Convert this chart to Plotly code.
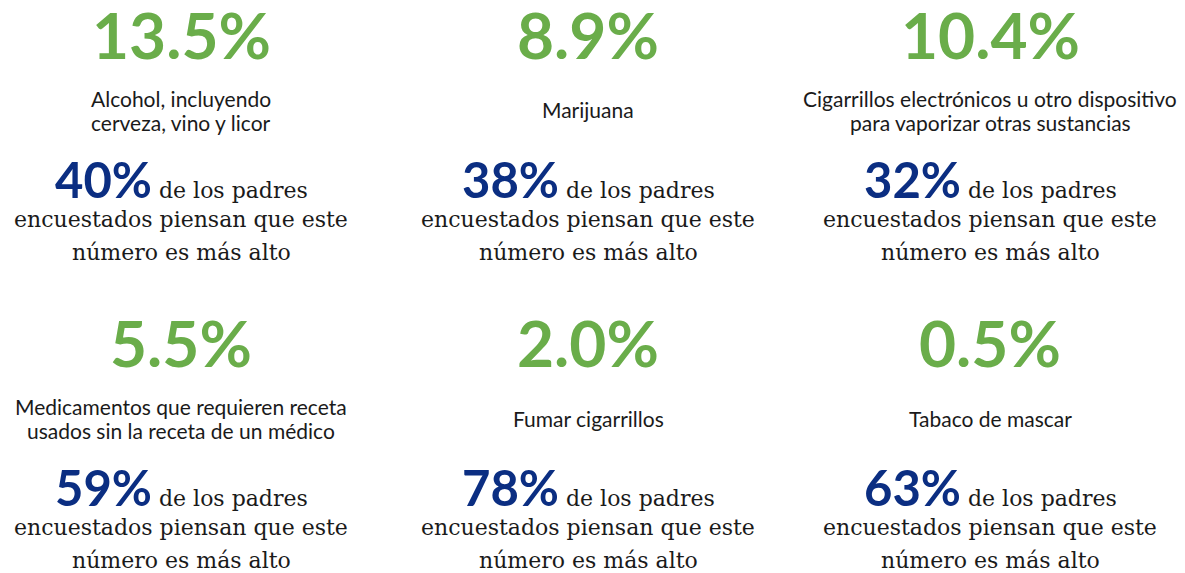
import plotly.graph_objects as go

# ---- data ----
rates = [13.5, 8.9, 10.4, 5.5, 2.0, 0.5]
substances = [
    "Alcohol, incluyendo<br>cerveza, vino y licor",
    "Marijuana",
    "Cigarrillos electrónicos u otro dispositivo<br>para vaporizar otras sustancias",
    "Medicamentos que requieren receta<br>usados sin la receta de un médico",
    "Fumar cigarrillos",
    "Tabaco de mascar",
]
parents_higher = [40, 38, 32, 59, 78, 63]
line1_text = "de los padres"
line2_text = "encuestados piensan que este"
line3_text = "número es más alto"

# ---- layout ----
OFF = 8  # default page body margin
W, H = 1185 - OFF, 573 - OFF
col_centers = [181, 588, 990]
row_offset = 308
GREEN = "#6aad4a"
BLUE = "#0b2e82"
DARK = "#1a1a1a"


def px(x):
    return (x - OFF) / W


def py(y):
    return 1 - (y - OFF) / H


fig = go.Figure()
ann = []
for i, (r, s, p) in enumerate(zip(rates, substances, parents_higher)):
    cx = col_centers[i % 3]
    dy = (i // 3) * row_offset
    ann.append(dict(x=px(cx), y=py(34 + dy), text=f"{r:.1f}%",
                    font=dict(family="Lato", size=64, color=GREEN, weight="bold")))
    lines = s.split("<br>")
    n = len(lines)
    for k, ln in enumerate(lines):
        yc = 110 + dy + (k - (n - 1) / 2) * 24
        ann.append(dict(x=px(cx), y=py(yc), text=ln,
                        font=dict(family="Lato", size=21, color=DARK)))
    ann.append(dict(x=px(cx), y=py(179 + dy),
                    text=f"<span style='font-family:Lato;font-size:49px;font-weight:bold;color:{BLUE}'>{p}%</span> {line1_text}",
                    font=dict(family="DejaVu Serif", size=22, color=DARK)))
    ann.append(dict(x=px(cx), y=py(219 + dy), text=line2_text,
                    font=dict(family="DejaVu Serif", size=22, color=DARK)))
    ann.append(dict(x=px(cx), y=py(252 + dy), text=line3_text,
                    font=dict(family="DejaVu Serif", size=22, color=DARK)))

for a in ann:
    a.update(xref="paper", yref="paper", xanchor="center", yanchor="middle",
             showarrow=False, align="center")

fig.update_layout(
    width=W, height=H,
    margin=dict(l=0, r=0, t=0, b=0),
    paper_bgcolor="white", plot_bgcolor="white",
    xaxis=dict(visible=False), yaxis=dict(visible=False),
    annotations=ann,
    showlegend=False,
)
fig.write_html("out.html")
